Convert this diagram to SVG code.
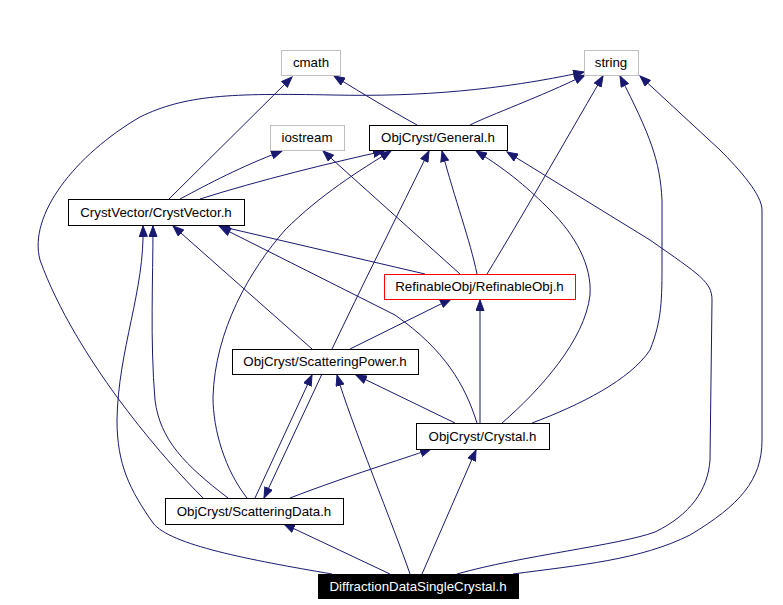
<svg xmlns="http://www.w3.org/2000/svg" width="783" height="605" viewBox="0 0 783 605">
<style>
.n rect{fill:#fff;stroke:#000;stroke-width:1}
.n.g rect{stroke:#bfbfbf}
.n.r rect{stroke:#ff0000}
.n.b rect{fill:#000}
.n text{font-family:"Liberation Sans",Arial,sans-serif;font-size:13.3px;text-anchor:middle;fill:#000}
.n.b text{fill:#fff}
#edges path{fill:none;stroke:#191970;stroke-width:1;marker-end:url(#ah)}
</style>
<defs>
<marker id="ah" markerWidth="12" markerHeight="9" refX="11" refY="4.5" orient="auto" markerUnits="userSpaceOnUse">
<path d="M0.5,0.5 L11,4.5 L0.5,8.5 z" fill="#191970" stroke="#191970"/>
</marker>
</defs>
<rect width="783" height="605" fill="#fff"/>
<g id="edges">
<path d="M169,199 L292,77"/>
<path d="M180,199 C210,183 240,167 282,151"/>
<path d="M200,199 C260,180 330,163 384,151"/>
<path d="M203,498 C175,470 145,435 117,397 C90,360 58,310 40,260 C28,215 75,155 140,117 C185,95 230,93 333,95 C420,97 500,90 584,72"/>
<path d="M470,125 C490,115 540,97 585,75"/>
<path d="M417,125 C390,110 365,95 334,76"/>
<path d="M460,274 L323,151"/>
<path d="M477,274 C470,240 455,200 442,151"/>
<path d="M487,274 C520,220 560,150 603,76"/>
<path d="M425,274 L219,226"/>
<path d="M477,423 C465,385 445,350 395,315 L220,227"/>
<path d="M312,349 L173,226"/>
<path d="M332,349 C360,290 400,210 429,151"/>
<path d="M350,349 L451,299"/>
<path d="M480,423 L480,300"/>
<path d="M455,423 L356,375"/>
<path d="M502,423 C540,390 585,340 590,295 C592,265 575,235 550,210 C530,190 510,172 476,151"/>
<path d="M532,423 C580,405 630,380 650,350 C662,320 662,300 662,260 L662,200 C660,160 650,135 620,76"/>
<path d="M228,498 C185,465 160,440 155,400 C150,340 153,280 153,226"/>
<path d="M332,574 C250,560 170,545 153,523 C130,490 117,465 117,420 C118,350 145,290 143,226"/>
<path d="M247,498 C225,470 213,430 213,397 C215,330 250,270 285,230 C320,195 360,170 391,151"/>
<path d="M255,498 L312,375"/>
<path d="M322,374 L264,498"/>
<path d="M290,498 C350,475 400,460 431,449"/>
<path d="M390,574 L284,524"/>
<path d="M422,574 L476,450"/>
<path d="M410,574 C395,530 350,420 337,375"/>
<path d="M457,574 C520,556 620,545 655,532 C690,515 708,490 710,460 L712,300 C712,282 700,275 650,240 L507,152"/>
<path d="M513,574 C580,565 640,560 690,535 C740,505 762,480 762,440 L762,210 C762,195 740,170 720,150 L640,76"/>
</g>
<g id="cmath" class="n g"><rect x="281.5" y="50.5" width="59" height="25"/><text x="311" y="67">cmath</text></g>
<g id="string" class="n g"><rect x="584.5" y="50.5" width="54" height="25"/><text x="611" y="67">string</text></g>
<g id="iostream" class="n g"><rect x="270.5" y="125.5" width="74" height="25"/><text x="307" y="142">iostream</text></g>
<g id="general" class="n"><rect x="369.5" y="125.5" width="138" height="25"/><text x="438" y="142">ObjCryst/General.h</text></g>
<g id="cryst_vector" class="n"><rect x="68.5" y="199.5" width="176" height="26"/><text x="156" y="217">CrystVector/CrystVector.h</text></g>
<g id="refinable_obj" class="n r"><rect x="384.5" y="274.5" width="191" height="25"/><text x="479.5" y="291">RefinableObj/RefinableObj.h</text></g>
<g id="scattering_power" class="n"><rect x="232.5" y="349.5" width="186" height="25"/><text x="325" y="366">ObjCryst/ScatteringPower.h</text></g>
<g id="crystal" class="n"><rect x="416.5" y="423.5" width="133" height="26"/><text x="482.5" y="441">ObjCryst/Crystal.h</text></g>
<g id="scattering_data" class="n"><rect x="165.5" y="498.5" width="178" height="26"/><text x="254" y="516">ObjCryst/ScatteringData.h</text></g>
<g id="diffraction" class="n b"><rect x="318.5" y="574.5" width="200" height="24"/><text x="418" y="591">DiffractionDataSingleCrystal.h</text></g>
</svg>
